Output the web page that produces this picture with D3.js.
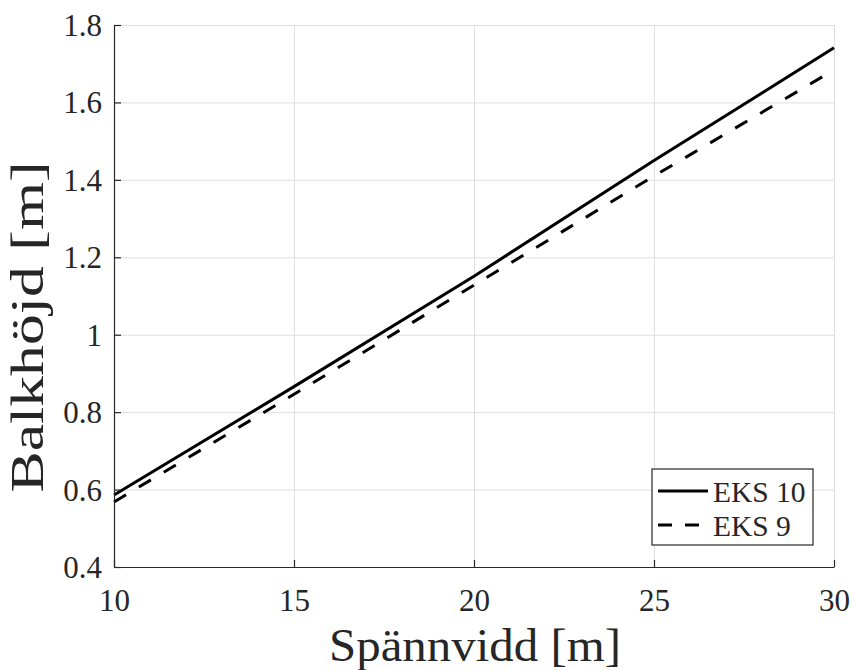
<!DOCTYPE html>
<html>
<head>
<meta charset="utf-8">
<script src="https://cdn.jsdelivr.net/npm/d3@7"></script>
<style>
  body { margin: 0; background: #fff; }
  svg text { font-family: "Liberation Serif", "Times New Roman", serif; fill: #262626; }
</style>
</head>
<body>
<script>
// data
var spannvidd = [10, 15, 20, 25, 30];
var eks10 = [0.586, 0.866, 1.151, 1.450, 1.741];
var eks9  = [0.568, 0.846, 1.128, 1.410, 1.684];
var xTicks = [10, 15, 20, 25, 30];
var yTicks = [0.4, 0.6, 0.8, 1, 1.2, 1.4, 1.6, 1.8];
var seriesNames = ["EKS 10", "EKS 9"];

var serif = '"Liberation Serif", "Times New Roman", serif';

var margin = {top: 25, right: 21, bottom: 103, left: 114};
var width = 855 - margin.left - margin.right;
var height = 670 - margin.top - margin.bottom;

var svg = d3.select("body").append("svg")
    .attr("width", 855)
    .attr("height", 670);

var g = svg.append("g")
    .attr("transform", "translate(" + margin.left + "," + margin.top + ")");

var xScale = d3.scaleLinear().domain([10, 30]).range([0, width]);
var yScale = d3.scaleLinear().domain([0.4, 1.8]).range([height, 0]);

// grid
g.append("g")
    .attr("class", "grid")
    .attr("transform", "translate(0," + height + ")")
    .call(d3.axisBottom(xScale).tickValues(xTicks).tickSize(-height).tickFormat(""))
    .call(function(s) { s.select(".domain").remove(); });

g.append("g")
    .attr("class", "grid")
    .call(d3.axisLeft(yScale).tickValues(yTicks).tickSize(-width).tickFormat(""))
    .call(function(s) { s.select(".domain").remove(); });

g.selectAll(".grid line").attr("stroke", "#dfdfdf").attr("stroke-width", 1);

// lines
var line = d3.line()
    .x(function(d) { return xScale(d[0]); })
    .y(function(d) { return yScale(d[1]); });

g.append("path")
    .datum(d3.zip(spannvidd, eks10))
    .attr("d", line)
    .attr("fill", "none")
    .attr("stroke", "#000")
    .attr("stroke-width", 3);

g.append("path")
    .datum(d3.zip(spannvidd, eks9))
    .attr("d", line)
    .attr("fill", "none")
    .attr("stroke", "#000")
    .attr("stroke-width", 3)
    .attr("stroke-dasharray", "14,15");

// axes
var xAxis = g.append("g")
    .attr("class", "axis")
    .attr("transform", "translate(0," + height + ")")
    .call(d3.axisBottom(xScale).tickValues(xTicks).tickSize(-7).tickSizeOuter(0).tickFormat(d3.format("d")));

var yAxis = g.append("g")
    .attr("class", "axis")
    .call(d3.axisLeft(yScale).tickValues(yTicks).tickSize(-7).tickSizeOuter(0).tickPadding(12)
      .tickFormat(function(d) { return d === 1 ? "1" : d3.format(".1f")(d); }));

g.selectAll(".axis").attr("font-family", serif).attr("font-size", 31);
xAxis.selectAll("text").attr("y", 44).attr("dy", null);
yAxis.selectAll("text").attr("dy", null).attr("y", 10.5);
g.selectAll(".axis text").style("font-family", serif).style("font-size", "31px").attr("fill", "#262626");
g.selectAll(".axis .domain, .axis .tick line").attr("stroke", "#262626").attr("stroke-width", 1.2);

// axis labels
svg.append("text")
    .attr("x", 475)
    .attr("y", 661)
    .attr("text-anchor", "middle")
    .attr("textLength", 292)
    .attr("lengthAdjust", "spacingAndGlyphs")
    .style("font-family", serif)
    .style("font-size", "47px")
    .text("Spännvidd [m]");

svg.append("text")
    .attr("transform", "translate(43,327) rotate(-90)")
    .attr("text-anchor", "middle")
    .attr("textLength", 331)
    .attr("lengthAdjust", "spacingAndGlyphs")
    .style("font-family", serif)
    .style("font-size", "47px")
    .text("Balkhöjd [m]");

// legend
var legend = svg.append("g").attr("transform", "translate(652,469)");
legend.append("rect")
    .attr("width", 161).attr("height", 76)
    .attr("fill", "#fff")
    .attr("stroke", "#262626")
    .attr("stroke-width", 1.2);

var legendY = [22, 56];
var legendDash = [null, "14,13"];
seriesNames.forEach(function(name, i) {
  legend.append("line")
      .attr("x1", 6).attr("x2", 56)
      .attr("y1", legendY[i]).attr("y2", legendY[i])
      .attr("stroke", "#000")
      .attr("stroke-width", 3)
      .attr("stroke-dasharray", legendDash[i]);
  legend.append("text")
      .attr("x", 61)
      .attr("y", legendY[i] + 11)
      .style("font-family", serif)
      .style("font-size", "29.5px")
      .text(name);
});
</script>
</body>
</html>
